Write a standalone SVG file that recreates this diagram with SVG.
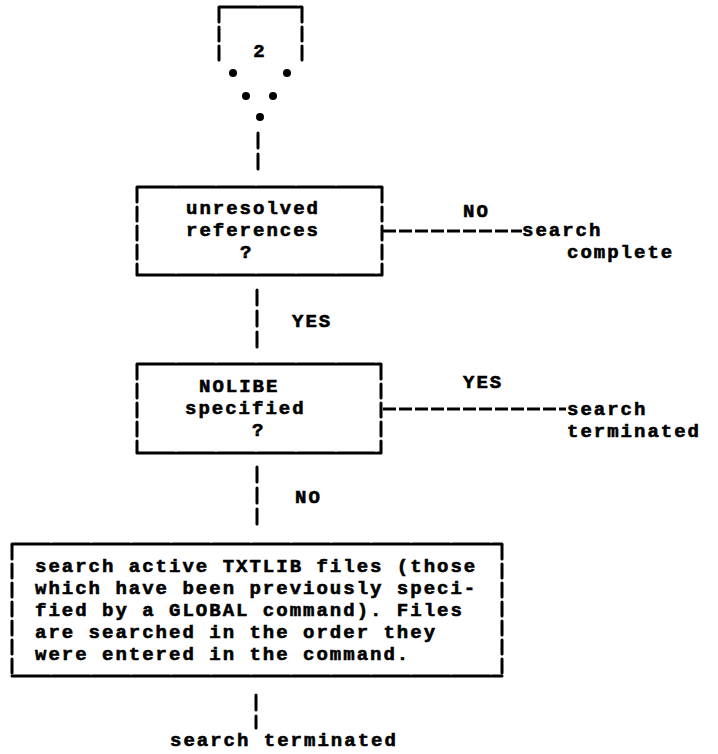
<svg xmlns="http://www.w3.org/2000/svg" width="718" height="754" viewBox="0 0 718 754">
<style>
text{font-family:"Liberation Mono","Courier New",monospace;font-weight:bold;font-size:19px;letter-spacing:2px;fill:#000;stroke:#000;stroke-width:0.6}
.h{stroke:#000;stroke-width:3;fill:none;stroke-dasharray:38 2;stroke-linecap:round}
.v{stroke:#000;stroke-width:3;fill:none;stroke-dasharray:14 5;stroke-linecap:round}
.c{stroke:#000;stroke-width:3;fill:none;stroke-dasharray:15 6;stroke-linecap:round}
.ch{stroke:#000;stroke-width:3;fill:none;stroke-dasharray:13 3}
.dot{fill:#000}
</style>
<rect width="718" height="754" fill="#fff"/>
<g id="connector-2">
<path class="h" d="M219 7 H302"/>
<path class="v" d="M219 8 V60"/>
<path class="v" d="M302 8 V60"/>
<text x="260" y="57" text-anchor="middle">2</text>
<circle class="dot" cx="233" cy="73" r="4"/>
<circle class="dot" cx="287" cy="73" r="4"/>
<circle class="dot" cx="246" cy="96" r="4"/>
<circle class="dot" cx="273" cy="96" r="4"/>
<circle class="dot" cx="260" cy="117" r="4"/>
</g>
<g id="connectors">
<path class="c" d="M258 133 V174"/>
<path class="c" d="M257 290 V350"/>
<path class="c" d="M257 467 V528"/>
<path class="c" d="M256 695 V728"/>
<path class="ch" d="M383 231 H522"/>
<path class="ch" d="M383 409 H566"/>
<text x="463" y="217">NO</text>
<text x="292" y="327">YES</text>
<text x="463" y="388">YES</text>
<text x="295" y="503">NO</text>
</g>
<g id="box-unresolved">
<path class="h" d="M137 187 H382"/>
<path class="h" d="M137 275 H382"/>
<path class="v" d="M137 188 V274"/>
<path class="v" d="M382 188 V274"/>
<text x="186" y="214">unresolved</text>
<text x="186" y="236">references</text>
<text x="240" y="258">?</text>
</g>
<g id="end-complete">
<text x="522" y="236">search</text>
<text x="567" y="258">complete</text>
</g>
<g id="box-nolibe">
<path class="h" d="M137 364 H381"/>
<path class="h" d="M137 453 H381"/>
<path class="v" d="M137 365 V452"/>
<path class="v" d="M381 365 V452"/>
<text x="199" y="392">NOLIBE</text>
<text x="185" y="414">specified</text>
<text x="252" y="436">?</text>
</g>
<g id="end-terminated-1">
<text x="567" y="415">search</text>
<text x="567" y="437">terminated</text>
</g>
<g id="box-search">
<path class="h" d="M12 544 H502"/>
<path class="h" d="M12 676 H502"/>
<path class="v" d="M12 545 V675"/>
<path class="v" d="M502 545 V675"/>
<text x="35" y="572">search active TXTLIB files (those</text>
<text x="35" y="594">which have been previously speci-</text>
<text x="35" y="616">fied by a GLOBAL command). Files</text>
<text x="35" y="638">are searched in the order they</text>
<text x="35" y="660">were entered in the command.</text>
</g>
<g id="end-terminated-2">
<text x="170" y="746">search terminated</text>
</g>
</svg>
